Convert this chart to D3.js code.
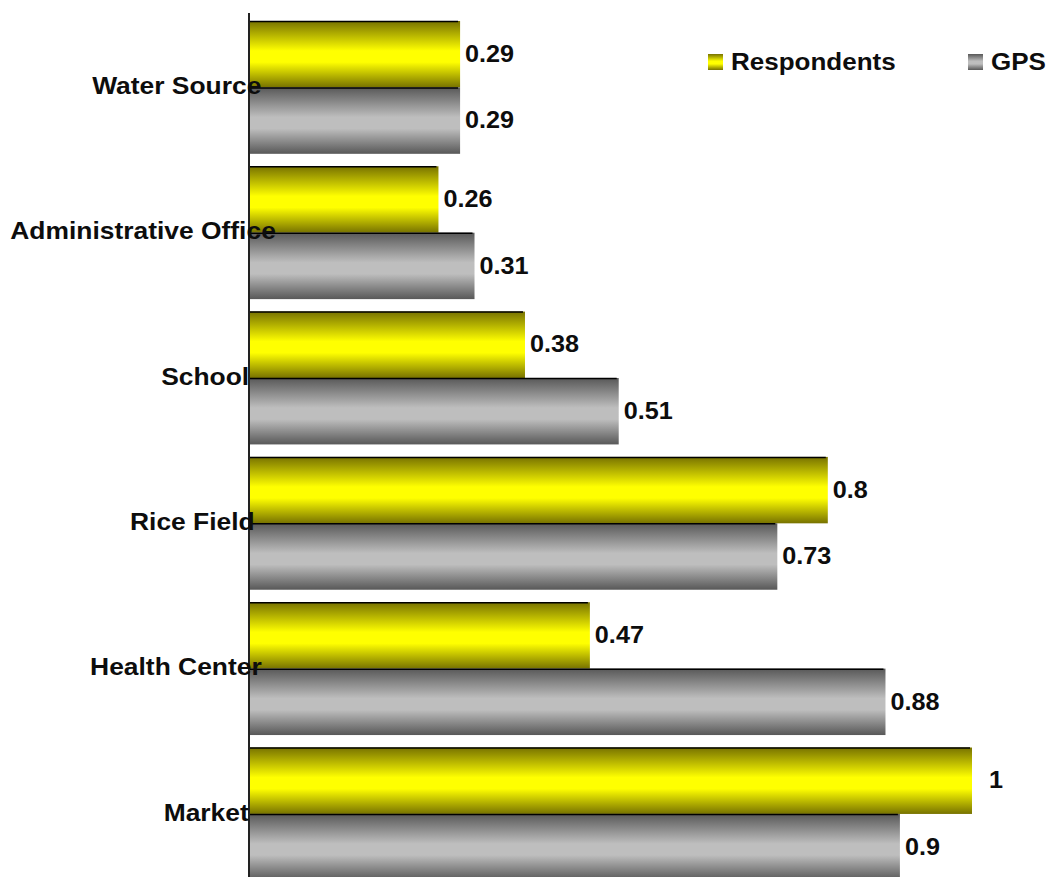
<!DOCTYPE html>
<html>
    <head>
        <meta charset="utf-8">
        <title>Distance comparison</title>
        <script src="https://d3js.org/d3.v7.min.js"></script>
        <style>
            body { margin: 0; background: #fff; }
            text { font-family: "Liberation Sans", Arial, sans-serif; font-weight: bold; fill: #0d0d0d; }
        </style>
    </head>
    <body>
        <script>

        // Data
        const categories = ["Water Source", "Administrative Office", "School", "Rice Field", "Health Center", "Market"];
        const seriesNames = ["Respondents", "GPS"];
        const respondents = [0.29, 0.26, 0.38, 0.8, 0.47, 1];
        const gps = [0.29, 0.31, 0.51, 0.73, 0.88, 0.9];

        const rows = categories.map((c, i) => ({
            category: c,
            values: [
                { series: "Respondents", value: respondents[i] },
                { series: "GPS", value: gps[i] }
            ]
        }));

        const svgWidth = 1047;
        const svgHeight = 877;
        const axisX = 249;

        const svg = d3.select("body").append("svg")
            .attr("width", svgWidth)
            .attr("height", svgHeight);

        // stretch text a bit wider, the original font is broader than Arial
        function stretch(sel, k) {
            sel.attr("lengthAdjust", "spacingAndGlyphs")
                .attr("textLength", function () { return this.getComputedTextLength() * k; });
        }

        // gradients (cylinder look)
        const defs = svg.append("defs");
        const grads = [
            { id: "gradYellow", edge: "#777200", mid: "#ffff00" },
            { id: "gradGray", edge: "#585858", mid: "#bebebe" }
        ];
        grads.forEach(g => {
            const lg = defs.append("linearGradient")
                .attr("id", g.id)
                .attr("x1", 0).attr("y1", 0)
                .attr("x2", 0).attr("y2", 1);
            lg.append("stop").attr("offset", "0%").attr("stop-color", g.edge);
            lg.append("stop").attr("offset", "45%").attr("stop-color", g.mid);
            lg.append("stop").attr("offset", "62%").attr("stop-color", g.mid);
            lg.append("stop").attr("offset", "100%").attr("stop-color", g.edge);
        });
        const fillOf = { "Respondents": "url(#gradYellow)", "GPS": "url(#gradGray)" };

        // scales
        const x = d3.scaleLinear()
            .domain([0, 1])
            .range([251, 972]);

        const y = d3.scaleBand()
            .domain(categories)
            .range([14.75, 886.6])
            .paddingInner(0.086)
            .paddingOuter(0.043);

        const ySub = d3.scaleBand()
            .domain(seriesNames)
            .range([0, y.bandwidth()]);

        // bars
        const groups = svg.append("g")
            .selectAll("g")
            .data(rows)
            .join("g")
            .attr("transform", d => `translate(0,${y(d.category)})`);

        groups.selectAll("rect")
            .data(d => d.values)
            .join("rect")
            .attr("x", axisX)
            .attr("y", d => ySub(d.series))
            .attr("width", d => x(d.value) - axisX)
            .attr("height", ySub.bandwidth())
            .attr("fill", d => fillOf[d.series]);

        groups.selectAll("line.top")
            .data(d => d.values)
            .join("line")
            .attr("class", "top")
            .attr("x1", axisX)
            .attr("x2", d => x(d.value) - 2)
            .attr("y1", d => ySub(d.series) + 0.5)
            .attr("y2", d => ySub(d.series) + 0.5)
            .attr("stroke", "#000")
            .attr("stroke-width", 1.5);

        // value labels
        groups.selectAll("text.val")
            .data(d => d.values)
            .join("text")
            .attr("class", "val")
            .attr("x", d => x(d.value) + (d.value === 1 ? 17 : 5))
            .attr("y", d => ySub(d.series) + ySub.bandwidth() / 2)
            .attr("dy", "0.32em")
            .style("font-size", "24px")
            .text(d => d.value)
            .call(stretch, 1.05);

        // axis line
        svg.append("line")
            .attr("x1", axisX).attr("x2", axisX)
            .attr("y1", 13).attr("y2", svgHeight)
            .attr("stroke", "#222")
            .attr("stroke-width", 2);

        // category labels (they spill slightly over the axis, like in the original)
        svg.append("g")
            .selectAll("text")
            .data(categories)
            .join("text")
            .attr("y", d => y(d) + y.bandwidth() / 2)
            .attr("dy", "0.28em")
            .attr("text-anchor", "end")
            .style("font-size", "24px")
            .text(d => d)
            .call(stretch, 1.1)
            .attr("x", function () {
                const w = +this.getAttribute("textLength");
                return 236 + 0.15 * w;
            });

        // legend
        const legendPos = { "Respondents": 708, "GPS": 968 };
        const legend = svg.append("g")
            .selectAll("g")
            .data(seriesNames)
            .join("g")
            .attr("transform", d => `translate(${legendPos[d]},54)`);

        legend.append("rect")
            .attr("width", 15)
            .attr("height", 16)
            .attr("fill", d => fillOf[d]);

        legend.append("text")
            .attr("x", 23)
            .attr("y", 8)
            .attr("dy", "0.34em")
            .style("font-size", "23px")
            .text(d => d)
            .call(stretch, 1.13);

        </script>
    </body>
</html>
